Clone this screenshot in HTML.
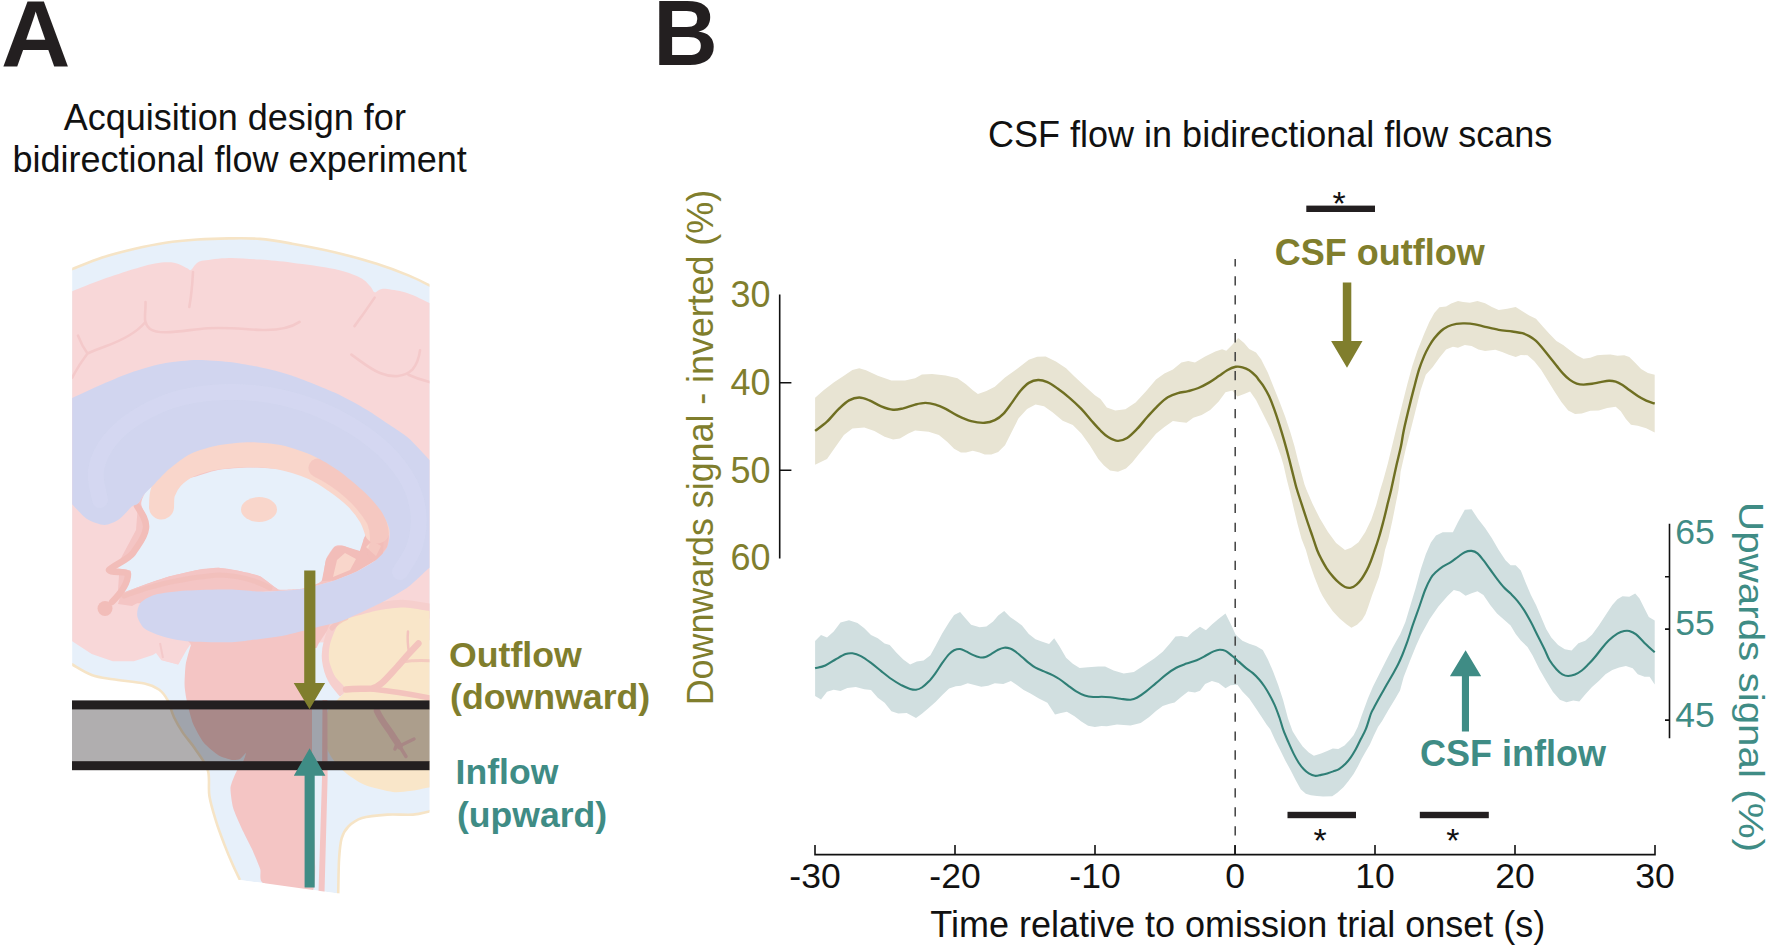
<!DOCTYPE html>
<html lang="en">
<head>
<meta charset="utf-8">
<title>CSF flow in bidirectional flow scans</title>
<style>
html,body{margin:0;padding:0;background:#fff;}
body{width:1769px;height:947px;overflow:hidden;}
svg{display:block;}
text{font-family:"Liberation Sans",sans-serif;}
.b{font-weight:bold;}
</style>
</head>
<body>
<svg width="1769" height="947" viewBox="0 0 1769 947">
<rect width="1769" height="947" fill="#ffffff"/>
<!-- Panel A -->
<text class="b" transform="translate(1.0 66.6) scale(1.025 1)" font-size="93.8" fill="#231f20">A</text>
<text x="234.8" y="130.2" font-size="36" text-anchor="middle" fill="#111">Acquisition design for</text>
<text x="239.6" y="172.2" font-size="36" text-anchor="middle" fill="#111">bidirectional flow experiment</text>
<defs><clipPath id="bc"><rect x="72.2" y="230" width="357.3" height="670"/></clipPath></defs>
<g clip-path="url(#bc)">
<path d="M60 274 C62 273.2 65.2 271.9 72.2 269.1 C79.2 266.4 91.9 260.9 102.2 257.5 C112.5 254.2 123.3 251.5 133.9 249 C144.5 246.5 155 244.3 165.6 242.7 C176.2 241.1 186.7 240.2 197.3 239.5 C207.9 238.8 218.6 238.5 229 238.4 C239.4 238.3 249.5 238 260 238.9 C270.5 239.8 279.8 241.5 292.2 243.7 C304.6 245.9 320.4 248.8 334.5 252.2 C348.6 255.5 364.4 259.9 376.7 263.8 C389 267.7 399.6 271.8 408.4 275.4 C417.2 279 424.2 282.8 429.5 285.3 C434.8 287.8 438.2 289.6 440 290.5 L442 808 L442 808 C440 808.5 434.7 810.1 429.8 811.2 C424.9 812.3 420 814 412.9 814.6 C405.8 815.2 395.9 814 387.4 814.6 C378.9 815.2 368.5 816 362 818 C355.5 820 351.8 823.1 348.4 826.5 C345 829.9 343.2 833 341.6 838.4 C340.1 843.8 339.7 849.5 339.1 858.7 C338.5 867.9 338.4 887.7 338.2 893.5 L239.9 879.9 L239.9 879.9 C238.8 877.5 235.7 871.3 233.1 865.5 C230.5 859.7 227.4 852.5 224.6 845.1 C221.8 837.8 218.6 829.6 216.1 821.4 C213.6 813.2 210.8 804.6 209.4 796 C208 787.4 210.2 777.8 207.8 770 C205.4 762.2 199.4 755.3 195.2 749 C191 742.7 186 737.4 182.5 732.1 C179 726.8 176.5 722.6 174 717.3 C171.5 712 170.1 705 167.7 700.4 C165.2 695.8 163.2 692.6 159.3 689.8 C155.4 687 152.2 685.2 144.5 683.5 C136.8 681.8 121.6 680.7 112.8 679.3 C104 677.9 98.5 677.5 91.7 675 C84.9 672.5 77.5 667.5 72.2 664.5 C66.9 661.5 62 658.2 60 657 Z" fill="#e7f0fa"/>
<path d="M60 296 C62 295.2 65.2 293.9 72.2 291.2 C79.2 288.5 91.9 283.3 102.2 279.6 C112.5 275.9 125.1 271.8 133.9 269.1 C142.7 266.4 148.3 264.5 155 263.4 C161.7 262.3 168.7 261.9 174 262.7 C179.3 263.5 183.9 266.8 186.7 268 C189.5 269.2 189.3 270.7 190.9 270 C192.5 269.3 193.9 265.6 196 264 C198.1 262.4 198.1 261.6 203.6 260.6 C209.1 259.6 219.6 258.1 229 257.9 C238.4 257.7 249.5 258.8 260 259.6 C270.5 260.4 279.8 261.1 292.2 262.7 C304.6 264.3 323.2 266.6 334.5 269.1 C345.8 271.6 353.9 274.7 359.8 277.5 C365.7 280.3 367.5 283.5 370 286 C372.5 288.5 372.9 291.7 374.6 292.3 C376.3 292.9 377.9 290 380 289.5 C382.1 289 382.6 288.5 387.3 289.1 C392 289.8 401.4 291.1 408.4 293.4 C415.4 295.7 423.9 300.3 429.5 302.9 C435.1 305.5 439.9 308 442 309 L442 640 L190 645 L186.7 649.7 L178.3 664.5 L161.4 660.3 L156 653 L152.9 655 L133.9 661.3 L112.8 661.3 L91.7 653.9 L72.2 641.2 L60 633 Z" fill="#f8d7d8"/>
<g fill="none" stroke="#f4c9ca" stroke-width="2.6" stroke-linecap="round">
<path d="M193 272 Q192 292 189.3 307"/>
<path d="M145.5 302 C146 315 142 322 150 329 C160 336 185 330 207.8 328.2 C230 327 245 329.5 262 330 C280 330.5 292 327 299.6 321.9"/>
<path d="M144.5 323 C136 333 123.4 339.8 105 346.5 C97 349.5 92 351.5 87.5 353.5 M78 335.6 Q82 346 87.5 353.5 Q78 366 72.2 377.8"/>
<path d="M374.6 297.6 Q365 312 354.5 326.1"/>
<path d="M351.4 354.6 C362 362 370 369 380 373 C392 378 405 377 412.6 369.4 C417 364 419 358 420 350.4 M408.4 374.7 Q418 379 429.5 382.1"/>
</g>
<path d="M138.1 503.4 L144.5 493.9 L155 483.4 L169.8 468.6 L190.9 453.8 L218.4 445.3 L250 442.2 L281.7 445.3 L313.4 455.9 L338.7 470.7 L364 491.8 L380.9 510.8 L389.4 529.8 L387.3 546.7 L376.7 559.4 L355.6 572.1 L334.5 580.5 L319.7 584.7 L302.8 589 L277.5 591 L260 591.6 L229 589.5 L186.7 590.6 L155 594.8 L140.3 603.2 L125 603 L118 590 L120 560 L136 530Z" fill="#f4c5c4"/>
<path d="M141.3 504.5 C141.8 508.2 148.3 521.4 148.7 525.6 C149.1 529.8 146 537.7 144.5 540.4 C143 543.1 137.5 546.8 136 548.8 C134.5 550.8 133.9 555.1 131.8 557.3 C129.7 559.5 118.2 566.2 118.1 567.8 C118 569.4 129.6 569.3 130.7 571 C131.8 572.7 128.7 580 127.6 582.6 C126.5 585.2 119.2 593 121.2 593.2 C123.2 593.4 138.8 586.7 144.5 584.7 C150.2 582.7 163.6 578 169.8 576.3 C176 574.6 191.6 570.9 197.3 569.9 C203 568.9 213.5 567.7 218.4 567.8 C223.3 567.9 234.6 570 239.5 571 C244.4 572 255.6 574.2 260 576.3 C264.4 578.4 274 587.5 277.5 589 C281 590.5 286.8 589.6 290 589.5 C293.2 589.4 301.3 589 305 588 C308.7 587 319.4 583.8 321.8 580.5 C324.2 577.2 324.5 563.3 326 559.4 C327.5 555.5 332.5 548.3 334.5 546.7 C336.5 545.1 339.9 545.2 342.9 545.7 C345.9 546.2 357.3 551.8 359.8 550.9 C362.3 550 363.1 540.5 364 538.3 C364.9 536.1 367.2 533.9 367.2 531.9 C367.2 529.9 365.8 524.6 364 521.4 C362.2 518.2 354.8 508 351.4 504.5 C348 501 338.9 494.8 334.5 491.8 C330.1 488.8 319.6 481.7 313.4 479.1 C307.2 476.5 289.1 471 281.7 469.6 C274.3 468.2 257.4 467.5 250 467.5 C242.6 467.5 225 468.8 218 470 C211 471.2 196.2 476.8 190 478 C183.8 479.2 169.7 478.8 165 480 C160.3 481.2 152.4 486.4 150 488 C147.6 489.6 145.5 492 144.5 493.9 C143.5 495.8 140.8 500.8 141.3 504.5Z" fill="#e7f0fa"/>
<path d="M121.2 593.2 L144.5 584.7 L169.8 576.3 L197.3 569.9 L218.4 567.8 L239.5 571 L260 576.3 L277.5 589 L260 592 L186 591 L150 596 L132 606 L118 604Z" fill="#f4c5c4"/>
<path d="M124 596 C150 586 180 578 218 575 C240 575 255 580 270 588" fill="none" stroke="#f2bdb9" stroke-width="5" stroke-linecap="round" opacity="0.75"/>
<path d="M321.8 581 L326 559.4 L334.5 546.7 L342.9 545.7 L359.8 550.9 L364 538.3 L369 528 L384 536 L383 556 L355.6 572.1 L334.5 580.5Z" fill="#f2bdb9"/>
<path d="M333 577 L337 560 L345 553 L356 559 L350 570Z M366 547 L372 541 L381 546 L376 556Z" fill="#f9d6cb"/>
<path d="M161.5 507 C161.8 504.5 161.2 497 163 492 C164.8 487 167.5 481.6 172 477 C176.5 472.4 182.3 467.8 190 464.5 C197.7 461.2 208 458.6 218 457 C228 455.4 239.4 454.7 250 454.8 C260.6 454.9 271.1 455.4 281.7 457.5 C292.3 459.6 304.3 463.6 313.4 467.5 C322.4 471.4 328.7 475.9 336 481 C343.3 486.1 351.2 492.2 357 498 C362.8 503.8 367.7 510.5 371 516 C374.3 521.5 376 528.5 377 531" fill="none" stroke="#f9d6cb" stroke-width="25" stroke-linecap="round"/>
<path d="M318 468 C343 480 365 500 376 520 C381 532 380 545 377 552" fill="none" stroke="#f2bdb9" stroke-width="19" stroke-linecap="round" opacity="0.55"/>
<ellipse cx="259" cy="509.5" rx="18" ry="12.5" fill="#f9d6cb"/>
<path d="M137 506 C141 512 147 520 146 528 C145 538 138 545 133 553 C128 560 112 566 109 570 C112 574 124 570 128 574 C128 584 120 594 112 602" fill="none" stroke="#f2bdb9" stroke-width="6.5" stroke-linecap="round" stroke-linejoin="round"/>
<circle cx="105" cy="608.5" r="7.5" fill="#f2bdb9"/>
<path d="M195 636 C179.9 638.7 191.8 642.1 190.9 645 C190 647.9 186.3 660.4 185.7 664.5 C185.1 668.6 184.5 682 184.6 685.6 C184.7 689.2 185.9 696.6 186.7 700.4 C187.5 704.2 191.3 719.4 193 723.6 C194.7 727.8 201.1 739.4 203.6 742.6 C206.1 745.8 215.6 753.6 218.4 755.3 C221.2 757 229.8 759.6 232 760 C234.2 760.4 238.6 759.7 240 759 C241.4 758.3 245.7 752.7 246 753 C246.3 753.3 243.9 760.2 243 762 C242.1 763.8 237.8 768.9 236.5 771.4 C235.2 773.9 230.8 783.9 230.5 787.5 C230.2 791.1 232 803.7 233.1 807.8 C234.2 811.9 239.7 824.1 241.6 828.2 C243.5 832.3 249.8 844.4 251.7 848.5 C253.6 852.6 259 865.4 260.2 868.9 C261.4 872.4 258.3 881.1 263.6 883.2 C268.9 885.3 308.1 898.5 313 890.2 C317.9 881.9 313 819 313 800 C313 781 313 714 313 700 C313 686 312.5 665.5 313 660 C313.5 654.5 316.5 648 318 645 C319.5 642 325.6 632.7 328 630 C330.4 627.3 355.3 617.4 342 618 C328.7 618.6 210.1 633.3 195 636Z" fill="#f4c5c4"/>
<path d="M159 641 L162 660 L178 664.5 L187 648 L186 640Z" fill="#f8d7d8"/>
<path d="M160 643 L163 658" stroke="#f4c9ca" stroke-width="2" fill="none"/>
<path d="M312 648 L322 648 L330 665 L346 692 L330 712 L325 730 L328 750 L340 765 L352 778 L345 800 L312 800 Z" fill="#e7f0fa"/>
<path d="M346 692 C344.2 689.7 337.8 683.3 335 678 C332.2 672.7 330.2 665.8 329.5 660 C328.8 654.2 329.3 649.2 331 643 C332.7 636.8 335 627.6 339.5 623 C344 618.4 351 617.7 358 615.5 C365 613.3 373.6 611.1 381.3 609.7 C389.1 608.4 396.1 607.1 404.5 607.4 C412.9 607.7 427.4 610.8 432 611.5" fill="none" stroke="#f6cfcd" stroke-width="15" stroke-linejoin="round"/>
<path d="M339.5 622.5 C342.7 619.2 353.1 617 358 615.5 C362.9 614 375.9 610.6 381.3 609.7 C386.7 608.8 398.9 607.2 404.5 607.4 C410.1 607.6 424.8 610.2 429.5 611 C434.2 611.8 443.2 593.7 445 614 C446.8 634.3 446.9 764.8 445 785 C443.1 805.2 433 786.7 428.9 787.4 C424.8 788.1 414.2 790.5 410 791 C405.8 791.5 398.1 792.7 392.9 792 C387.6 791.3 370.4 787.2 365 785 C359.6 782.8 349.9 776.1 346.4 773.4 C342.9 770.7 337.1 764.8 334.8 761.8 C332.5 758.8 327.9 751.7 326.7 747.9 C325.5 744.1 324.3 733.6 324.4 729.3 C324.5 725 326.3 714.2 327.9 710.7 C329.5 707.2 336.1 701.1 338 699 C339.9 696.9 343.8 694 344.5 692.5 C345.2 691 345.2 688.3 344.1 686.4 C343 684.5 336.6 679 334.8 675.9 C333 672.8 329.5 663.5 329 659.7 C328.5 655.9 329 647.7 330.2 643.4 C331.4 639.1 336.3 625.8 339.5 622.5Z" fill="#f9e6c9"/>
<path d="M332 628 Q338 621 346 618" fill="none" stroke="#f2bdb9" stroke-width="5" stroke-linecap="round" opacity="0.6"/>
<g fill="none" stroke="#f3c3bd" stroke-linecap="round" stroke-linejoin="round">
<path d="M346 689.5 C356 688 364 689 372 688.5 C380 687 386 679 397.5 666.6 C403 660 411 651 418.4 643.4" stroke-width="6.5"/>
<path d="M409 652.5 Q407 641 408 631.5" stroke-width="2.5"/>
<path d="M402 662 Q415 660 430 660.8" stroke-width="3" opacity="0.8"/>
<path d="M372 689 Q400 692 430 698" stroke-width="5.5"/>
<path d="M377 711 C381 720 387 727 391 733 C394 738 397 742 399.5 746" stroke-width="6.5"/>
<path d="M399.5 746 L414 739 M399.5 746 L406 756.5 M398 741 L395 749" stroke-width="3.5"/>
</g>
<path d="M322.5 700 L327.4 700 L327.6 778 L324.5 893 L318.5 892 L322 778Z" fill="#f4c5c4"/>
<clipPath id="cc"><path d="M60 403 C61.6 390.5 66.6 400.4 72.2 397.9 C77.8 395.4 94 387.7 102.2 384.2 C110.4 380.7 125.4 374.3 133.9 371.5 C142.4 368.7 157.1 364.5 165.6 363 C174.1 361.5 188.8 360 197.3 359.9 C205.8 359.8 220.6 361 229 362 C237.4 363 251.6 365.5 260 367.3 C268.4 369.1 282.3 372.3 292.2 375.7 C302.1 379.1 324.6 388.1 334.5 392.6 C344.4 397.1 358.9 405.2 366.2 409.5 C373.5 413.8 383.4 420.7 389 424.5 C394.6 428.3 403 433.3 408.4 438 C413.8 442.7 424.6 454.8 429.5 460.1 C434.4 465.4 442.9 465.2 445 478 C447.1 490.8 447.1 544 445 556 C442.9 568 434.4 563.7 429.5 567.8 C424.6 571.9 414 582.6 408.4 586.8 C402.8 591 392.9 596.4 387.3 599.5 C381.7 602.6 372.4 607.1 366.2 610 C360 612.9 347 619 340.8 621.2 C334.6 623.4 327.6 624.5 319.7 626.5 C311.8 628.5 291 634.2 281.7 636 C272.4 637.8 257 639.4 250 640.2 C243 641 237.4 642.2 229 642.3 C220.6 642.4 195.7 642 186.7 641.2 C177.7 640.4 167 637.7 161.4 636 C155.8 634.3 147.7 631.3 144.5 628.6 C141.3 625.9 137.9 619.4 137.3 616 C136.7 612.6 137.9 606 140.3 603.2 C142.7 600.4 148.8 596.5 155 594.8 C161.2 593.1 176.8 591.3 186.7 590.6 C196.6 589.9 219.2 589.4 229 589.5 C238.8 589.6 253.5 591.4 260 591.6 C266.5 591.8 271.8 591.3 277.5 591 C283.2 590.7 297.2 589.8 302.8 589 C308.4 588.2 315.5 585.8 319.7 584.7 C323.9 583.6 329.7 582.2 334.5 580.5 C339.3 578.8 350 574.9 355.6 572.1 C361.2 569.3 372.5 562.8 376.7 559.4 C380.9 556 385.6 550.6 387.3 546.7 C389 542.8 390.3 534.6 389.4 529.8 C388.5 525 384.3 515.9 380.9 510.8 C377.5 505.7 369.6 497.1 364 491.8 C358.4 486.5 345.4 475.5 338.7 470.7 C332 465.9 321 459.3 313.4 455.9 C305.8 452.5 290.2 447.1 281.7 445.3 C273.2 443.5 258.4 442.2 250 442.2 C241.6 442.2 226.3 443.8 218.4 445.3 C210.5 446.8 197.4 450.7 190.9 453.8 C184.4 456.9 174.6 464.7 169.8 468.6 C165 472.5 158.4 480 155 483.4 C151.6 486.8 146.8 491.2 144.5 493.9 C142.2 496.6 139.8 501.7 138.1 503.4 C136.4 505.1 134.3 504.5 131.8 506.6 C129.3 508.7 122.8 516.8 119.1 519.3 C115.4 521.8 108.6 525 104.4 525 C100.2 525 91.8 522 87.5 519.3 C83.2 516.6 75.9 508.1 72.2 504.5 C68.5 500.9 61.6 505.5 60 492 C58.4 478.5 58.4 415.5 60 403Z"/></clipPath>
<path d="M60 403 C61.6 390.5 66.6 400.4 72.2 397.9 C77.8 395.4 94 387.7 102.2 384.2 C110.4 380.7 125.4 374.3 133.9 371.5 C142.4 368.7 157.1 364.5 165.6 363 C174.1 361.5 188.8 360 197.3 359.9 C205.8 359.8 220.6 361 229 362 C237.4 363 251.6 365.5 260 367.3 C268.4 369.1 282.3 372.3 292.2 375.7 C302.1 379.1 324.6 388.1 334.5 392.6 C344.4 397.1 358.9 405.2 366.2 409.5 C373.5 413.8 383.4 420.7 389 424.5 C394.6 428.3 403 433.3 408.4 438 C413.8 442.7 424.6 454.8 429.5 460.1 C434.4 465.4 442.9 465.2 445 478 C447.1 490.8 447.1 544 445 556 C442.9 568 434.4 563.7 429.5 567.8 C424.6 571.9 414 582.6 408.4 586.8 C402.8 591 392.9 596.4 387.3 599.5 C381.7 602.6 372.4 607.1 366.2 610 C360 612.9 347 619 340.8 621.2 C334.6 623.4 327.6 624.5 319.7 626.5 C311.8 628.5 291 634.2 281.7 636 C272.4 637.8 257 639.4 250 640.2 C243 641 237.4 642.2 229 642.3 C220.6 642.4 195.7 642 186.7 641.2 C177.7 640.4 167 637.7 161.4 636 C155.8 634.3 147.7 631.3 144.5 628.6 C141.3 625.9 137.9 619.4 137.3 616 C136.7 612.6 137.9 606 140.3 603.2 C142.7 600.4 148.8 596.5 155 594.8 C161.2 593.1 176.8 591.3 186.7 590.6 C196.6 589.9 219.2 589.4 229 589.5 C238.8 589.6 253.5 591.4 260 591.6 C266.5 591.8 271.8 591.3 277.5 591 C283.2 590.7 297.2 589.8 302.8 589 C308.4 588.2 315.5 585.8 319.7 584.7 C323.9 583.6 329.7 582.2 334.5 580.5 C339.3 578.8 350 574.9 355.6 572.1 C361.2 569.3 372.5 562.8 376.7 559.4 C380.9 556 385.6 550.6 387.3 546.7 C389 542.8 390.3 534.6 389.4 529.8 C388.5 525 384.3 515.9 380.9 510.8 C377.5 505.7 369.6 497.1 364 491.8 C358.4 486.5 345.4 475.5 338.7 470.7 C332 465.9 321 459.3 313.4 455.9 C305.8 452.5 290.2 447.1 281.7 445.3 C273.2 443.5 258.4 442.2 250 442.2 C241.6 442.2 226.3 443.8 218.4 445.3 C210.5 446.8 197.4 450.7 190.9 453.8 C184.4 456.9 174.6 464.7 169.8 468.6 C165 472.5 158.4 480 155 483.4 C151.6 486.8 146.8 491.2 144.5 493.9 C142.2 496.6 139.8 501.7 138.1 503.4 C136.4 505.1 134.3 504.5 131.8 506.6 C129.3 508.7 122.8 516.8 119.1 519.3 C115.4 521.8 108.6 525 104.4 525 C100.2 525 91.8 522 87.5 519.3 C83.2 516.6 75.9 508.1 72.2 504.5 C68.5 500.9 61.6 505.5 60 492 C58.4 478.5 58.4 415.5 60 403Z" fill="#d1d5ef"/>
<g clip-path="url(#cc)">
<path d="M100 500 C99.3 495 94.3 480 96 470 C97.7 460 102.7 449.2 110 440 C117.3 430.8 128.3 422 140 415 C151.7 408 165.2 401.8 180 398 C194.8 394.2 212.3 392.2 229 392 C245.7 391.8 263.2 393.3 280 397 C296.8 400.7 314.2 406.5 330 414 C345.8 421.5 362.5 431.8 375 442 C387.5 452.2 397.8 463.7 405 475 C412.2 486.3 416.3 498.3 418 510 C419.7 521.7 418 534.7 415 545 C412 555.3 402.5 567.5 400 572" fill="none" stroke="#dcdff4" stroke-width="16" stroke-linecap="round" opacity="0.3"/>
</g>
</g>
<g fill="none" stroke="#f6e4c6" stroke-width="2.6" clip-path="url(#bc)">
<path d="M60 274 C62 273.2 65.2 271.9 72.2 269.1 C79.2 266.4 91.9 260.9 102.2 257.5 C112.5 254.2 123.3 251.5 133.9 249 C144.5 246.5 155 244.3 165.6 242.7 C176.2 241.1 186.7 240.2 197.3 239.5 C207.9 238.8 218.6 238.5 229 238.4 C239.4 238.3 249.5 238 260 238.9 C270.5 239.8 279.8 241.5 292.2 243.7 C304.6 245.9 320.4 248.8 334.5 252.2 C348.6 255.5 364.4 259.9 376.7 263.8 C389 267.7 399.6 271.8 408.4 275.4 C417.2 279 424.2 282.8 429.5 285.3 C434.8 287.8 438.2 289.6 440 290.5"/>
<path d="M60 657 C62 658.2 66.9 661.5 72.2 664.5 C77.5 667.5 84.9 672.5 91.7 675 C98.5 677.5 104 677.9 112.8 679.3 C121.6 680.7 136.8 681.8 144.5 683.5 C152.2 685.2 155.4 687 159.3 689.8 C163.2 692.6 165.2 695.8 167.7 700.4 C170.1 705 171.5 712 174 717.3 C176.5 722.6 179 726.8 182.5 732.1 C186 737.4 191 742.7 195.2 749 C199.4 755.3 205.4 762.2 207.8 770 C210.2 777.8 208 787.4 209.4 796 C210.8 804.6 213.6 813.2 216.1 821.4 C218.6 829.6 221.8 837.8 224.6 845.1 C227.4 852.5 230.5 859.7 233.1 865.5 C235.7 871.3 238.8 877.5 239.9 879.9"/>
<path d="M338.2 893.5 C338.4 887.7 338.5 867.9 339.1 858.7 C339.7 849.5 340.1 843.8 341.6 838.4 C343.2 833 345 829.9 348.4 826.5 C351.8 823.1 355.5 820 362 818 C368.5 816 378.9 815.2 387.4 814.6 C395.9 814 405.8 815.2 412.9 814.6 C420 814 424.9 812.3 429.8 811.2 C434.7 810.1 440 808.5 442 808"/>
</g>
<path d="M200 878.5 L239.9 879.9 L338.2 893.5 L345 894.5 L345 905 L200 905Z" fill="#fff"/>
<rect x="72" y="709" width="357.5" height="53" fill="#231f20" fill-opacity="0.36"/>
<rect x="72" y="700.4" width="357.5" height="9" fill="#231f20"/>
<rect x="72" y="761.2" width="357.5" height="9" fill="#231f20"/>
<path d="M304.2 570.6H315.4V683H325.1L309.5 709.3L293.7 683H304.2Z" fill="#807e2d"/>
<path d="M304.6 887.4H314.7V775.8H325.4L309.6 748.3L293.8 775.8H304.6Z" fill="#3f8c85"/>
<text class="b" x="449" y="667.4" font-size="35.7" fill="#807e2d">Outflow</text>
<text class="b" x="450" y="709.4" font-size="35.7" fill="#807e2d">(downward)</text>
<text class="b" x="455.6" y="784" font-size="35.6" fill="#3f8c85">Inflow</text>
<text class="b" x="457" y="826.5" font-size="35.6" fill="#3f8c85">(upward)</text>
<!-- Panel B -->
<text class="b" transform="translate(653.2 65.2) scale(0.965 1)" font-size="92.6" fill="#231f20">B</text>
<text x="1270.2" y="146.8" font-size="36" text-anchor="middle" fill="#111">CSF flow in bidirectional flow scans</text>
<path d="M815.1 397.8 L823.6 390.2 L833.7 382.6 L843.9 375.8 L852.4 369.9 L859.2 368.2 L866 370.2 L877.8 375.8 L891.4 380.4 L905 380.5 L915.1 378.3 L921.9 374.4 L932.1 374.1 L945.7 375.4 L957.5 378.3 L966 384.3 L972.8 390.2 L977.9 394.1 L986.4 391 L994.8 386.8 L1005 377.5 L1016.9 369 L1028.8 359.7 L1037.2 356.8 L1045.7 356.6 L1055.9 361.4 L1066.1 368.2 L1074.5 376.6 L1084.7 386 L1094.9 395.3 L1100.5 399 L1106.8 407.5 L1115.3 410.4 L1125.4 409.2 L1135.6 402.4 L1145.8 391.4 L1156 379.5 L1164.4 373.6 L1172.9 369.4 L1181.4 362.6 L1188.2 360.9 L1195 362.6 L1205.1 356.6 L1215.3 351.5 L1222.1 349.3 L1226.3 350.7 L1232.3 344.8 L1238.2 338 L1244.1 343.1 L1249.2 349 L1256 352.4 L1261.1 359.2 L1267.9 372.7 L1274.7 389.7 L1280 402.9 L1285.1 416.5 L1290.2 431.7 L1294.5 446.2 L1297.9 460 L1304.5 484.4 L1306.6 490 L1312.4 503.6 L1319.9 518.5 L1328 532.1 L1336.1 542.9 L1345 550 L1351.1 547.7 L1358.5 542.2 L1365.3 532.1 L1371.4 519.2 L1376.2 504.9 L1380.2 490 L1383.3 480 L1387.9 463.2 L1392.8 443 L1397 425.7 L1402 405.3 L1407.1 385 L1412.2 366.3 L1417.3 351 L1424.1 334.1 L1429.2 322.2 L1434.3 312.9 L1439.4 307.3 L1446.1 306.6 L1451.2 303.6 L1458 301 L1463.1 301.9 L1469.9 302.7 L1477.5 301 L1485.1 303.2 L1491.9 307 L1498.7 310 L1507.2 308.7 L1515.7 307 L1522.4 311.2 L1529.2 315.4 L1536 318.8 L1542.8 326.5 L1549.6 334.1 L1556.4 340.9 L1563.1 345.1 L1569.9 350.2 L1576.7 355.3 L1583.5 358.7 L1590.3 357.8 L1597.1 355.3 L1603.8 354.8 L1610.6 354.4 L1617.4 355.8 L1624.2 355.3 L1629.3 357 L1634.4 362.1 L1641.1 368.9 L1647.9 373.1 L1654.7 374.8 L1654.7 432.4 L1646.2 428.2 L1637.8 425.7 L1631 424.8 L1625.9 418.9 L1620.8 411.2 L1615.7 406.7 L1607.2 407.9 L1598.8 410.4 L1590.3 410.7 L1581.8 413.5 L1575 414.1 L1568.2 410.4 L1561.4 401.9 L1554.7 391.7 L1547.9 380.7 L1541.1 369.7 L1534.3 361.2 L1527.5 355.3 L1520.8 354.9 L1515.7 357 L1508.9 354.8 L1502.1 351.9 L1495.3 349.7 L1485.1 351 L1478.4 349.4 L1471.6 346 L1464.8 345.1 L1458 347.7 L1452.9 346.8 L1446.1 349.4 L1439.4 357.8 L1432.6 367.2 L1425.8 374.8 L1420.7 390 L1415.6 410.4 L1410.5 430.7 L1406 448 L1400.6 471.7 L1399.8 480 L1398.5 490 L1395.8 503.6 L1392.4 520.5 L1388.4 538.8 L1385 550 L1382.3 563.6 L1378.9 577.1 L1371.8 596 L1368.4 606.2 L1365.6 614.1 L1362.2 619.7 L1357.1 624.8 L1351.4 627.7 L1346.4 624.3 L1339.6 618.6 L1332.8 611.3 L1327.1 603.3 L1322.6 596 L1319.9 590.7 L1314.4 577.1 L1309.7 563.6 L1305.9 550 L1301.5 538.8 L1297.5 523.9 L1293.4 507 L1290 492 L1286.9 480 L1283.5 465 L1280.9 456.3 L1275.8 441.9 L1270.7 429.2 L1262.8 413.4 L1256 399.9 L1250.1 391.4 L1244.1 393.9 L1237.4 396.5 L1232.3 390.5 L1225.5 392.2 L1218.7 401.6 L1210.2 410.1 L1201.7 415.1 L1193.3 417.7 L1186.5 422.8 L1179.7 421.9 L1172.9 421.1 L1164.4 427 L1156 433.8 L1147.5 444 L1139 454.1 L1132.2 462.6 L1126 468.5 L1118 471.8 L1110 470.5 L1104 465.5 L1098.3 458.9 L1089.8 445.3 L1081.3 433.4 L1072.8 425 L1062.7 420.7 L1052.5 412.2 L1044 406.3 L1035.5 404.6 L1027.1 408.9 L1018.6 418.2 L1011.8 431.7 L1005 445.3 L998.2 452.1 L991.4 454.6 L984.7 454.6 L979.6 452.4 L972.8 450.7 L966 452.4 L960.9 452.4 L954.1 448.7 L947.4 441.9 L938.9 435.1 L928.7 431.7 L915.1 430.4 L908.4 433.4 L899.9 438.5 L893.1 439.4 L884.6 436.8 L874.4 430.9 L864.3 427.5 L852.4 428.4 L843.9 435.1 L835.4 447 L827 458.9 L815.1 464.8Z" fill="#e8e4d3"/>
<path d="M815.1 640.9 L821 634.9 L827 637.5 L833.7 631.5 L840.5 622.6 L849 620.2 L857.5 623.1 L864.3 628.2 L871 634.9 L877.8 638.3 L884.6 643.4 L889.7 645.1 L896.5 652.7 L903.3 659.5 L910.1 664.6 L916.8 661.6 L923.6 660.4 L930.4 655.3 L935.5 646 L942.3 633.2 L949.1 622.2 L954.1 615.1 L960.1 612 L964.3 617.1 L971.1 624.8 L979.6 627.3 L986.4 626.5 L993.1 621.4 L998.2 615.4 L1004.2 610.9 L1010.1 617.1 L1015.2 620.5 L1022 625.6 L1028.8 634.1 L1035.5 639.2 L1042.3 641.7 L1049.1 643.9 L1054.2 638.3 L1059.3 646 L1066.1 657.8 L1072.8 663.8 L1079.6 668 L1088.1 667.2 L1098.3 666.5 L1105.1 666.5 L1113.6 670.4 L1123.7 673.4 L1133.9 672.1 L1144.1 665.3 L1154.3 658.5 L1162.7 651.7 L1169.5 644.1 L1175.5 636.5 L1181.4 635.9 L1187.3 637.3 L1192.4 632.2 L1200 626.8 L1206 630.2 L1211.9 624.6 L1218.7 618.7 L1225.5 613.6 L1230.6 623.7 L1235.7 634.8 L1242.4 640.7 L1249.2 643.8 L1256 646.1 L1262.8 650 L1267.9 659.4 L1273 671.2 L1278.1 684.8 L1283.1 700.1 L1288 718.5 L1292.6 731.2 L1297.6 739.3 L1302.7 746.5 L1308.8 752.6 L1313.9 755.8 L1321.1 753.6 L1327.2 751 L1332.8 748.5 L1338.3 749 L1344.5 745.4 L1349.5 740.3 L1353.6 735.3 L1357.7 727.1 L1361.5 716 L1367.9 698.4 L1373 686.5 L1379.8 672.9 L1386.6 659.4 L1393 647 L1400.3 634 L1405.4 622.1 L1410.5 605.1 L1415.6 588.2 L1420.7 569.5 L1425.8 554.3 L1430.9 542.4 L1436 535.6 L1442.7 532.2 L1452.9 532.2 L1458 522 L1464.8 509.8 L1471.6 509.3 L1477.9 518.7 L1485.1 528 L1491.9 538.2 L1498.7 550 L1505.5 560.2 L1510.6 565.3 L1515.7 565.3 L1520.8 570.4 L1525.8 583.1 L1530.9 595 L1536 605.1 L1541.1 617 L1546.2 628.9 L1551.3 637.4 L1558.1 645 L1564.8 649.2 L1571.6 650.4 L1578.4 643.3 L1585.2 640.7 L1592 634.8 L1598.8 625.5 L1605.5 615.3 L1612.3 605.1 L1617.4 599.2 L1622.5 596.3 L1629.3 596.7 L1635.2 593.6 L1639.5 598.4 L1644.5 608.5 L1648.8 617 L1654.7 620.4 L1654.7 684.4 L1649.6 676.8 L1644.5 676.8 L1637.8 674.3 L1632.7 668.3 L1625.9 666.1 L1619.1 667.5 L1612.3 670 L1605.5 674.3 L1598.8 681 L1592 687 L1585.2 694.6 L1579.3 701.4 L1573.3 700.5 L1566.5 702.2 L1559.8 699.7 L1553 692.1 L1546.2 681 L1539.4 669.2 L1532.6 655.6 L1527.5 647.1 L1520.8 640.5 L1515.7 634 L1510.6 625.5 L1503.8 619.6 L1497 613.6 L1490.2 605.1 L1483.4 595 L1477.5 591.2 L1471.6 593.3 L1465.6 595.8 L1459.7 591.6 L1453.8 589.9 L1447.8 595.8 L1438.4 606.5 L1429.6 619.2 L1420.7 635.6 L1416 646 L1410.5 659.5 L1403.7 677 L1400 690.5 L1395.1 699 L1388.4 710 L1382.1 721 L1378 727.1 L1374 735.3 L1369.9 744.4 L1365.8 751.5 L1361.7 758.7 L1357.7 766.8 L1353.6 773.9 L1348.5 781.1 L1343.4 787.2 L1337.3 792.8 L1332.2 796.3 L1323.1 796.5 L1317 796.1 L1310.9 795.3 L1305.8 793.8 L1300.7 789.2 L1295.6 780 L1290.5 769.9 L1285.4 760.7 L1280.4 750.5 L1275.3 740.4 L1270.2 729.2 L1266.5 724.5 L1262.8 718.7 L1256 708.5 L1249.2 698.4 L1242.4 691.6 L1237.4 684.8 L1230.6 685.3 L1225.5 688.2 L1218.7 683.1 L1211.9 681.1 L1205.1 683.9 L1200 690.7 L1195 692.4 L1188.2 691.6 L1181.4 696.7 L1174.6 702.6 L1169.5 703.8 L1162.7 706 L1156 711.1 L1149.2 717 L1140.7 722.9 L1130.5 725.5 L1117 724.6 L1106.8 726.3 L1101.5 726 L1094.9 727 L1088.1 725.7 L1081.3 721.4 L1074.5 716.3 L1066.9 711.8 L1061 712.9 L1055 714.6 L1047.4 702.8 L1038.9 698.5 L1030.5 693.4 L1023.7 690.1 L1016.9 685 L1010.9 681.1 L1003.3 684.1 L994.8 683.3 L988.1 685.8 L981.3 686.7 L974.5 685 L967.7 683.3 L960.9 685.8 L955.8 686.3 L949.1 688.4 L942.3 695.1 L935.5 701.9 L928.7 707.9 L921.9 713.8 L916 718 L906.7 712.9 L898.2 713.5 L891.4 711.2 L884.6 702.8 L877.8 697.7 L871 690.1 L864.3 689.2 L855.8 687 L847.3 688 L840.5 690.9 L833.7 689.7 L827 691.7 L821 699.4 L815.1 696Z" fill="#d1dfe0"/>
<line x1="1235.2" y1="259" x2="1235.2" y2="854.6" stroke="#404040" stroke-width="1.5" stroke-dasharray="9.3 9.667" stroke-dashoffset="1.77"/>
<path d="M815.1 430.9 C817.1 429.3 823 425.3 827 421.6 C831 417.9 835.1 412.4 838.8 408.9 C842.5 405.4 845.6 402.3 849 400.4 C852.4 398.5 855.8 397.5 859.2 397.5 C862.6 397.5 865.7 398.9 869.4 400.4 C873.1 401.9 877.2 404.8 881.2 406.3 C885.2 407.9 889.4 409.4 893.1 409.7 C896.8 410 899.6 409.1 903.3 408.3 C907 407.5 911.4 405.5 915.1 404.6 C918.8 403.7 921.9 402.9 925.3 402.9 C928.7 402.9 932.1 403.6 935.5 404.6 C938.9 405.6 942 407.1 945.7 408.9 C949.4 410.7 953.3 413.6 957.5 415.6 C961.7 417.6 966.6 419.9 971.1 421.1 C975.6 422.3 980.8 423 984.7 422.8 C988.7 422.6 991.7 421.7 994.8 420.2 C997.9 418.7 1000.5 416.8 1003.3 413.9 C1006.1 411 1009 406.7 1011.8 402.9 C1014.6 399.1 1017.5 394.3 1020.3 391 C1023.1 387.7 1025.8 384.7 1028.8 382.9 C1031.8 381.1 1035 380.1 1038.1 380 C1041.2 379.9 1044.2 380.8 1047.4 382.2 C1050.7 383.6 1053.9 385.9 1057.6 388.5 C1061.3 391.1 1065.5 394.4 1069.5 397.8 C1073.5 401.2 1077.6 405.1 1081.3 408.9 C1085 412.7 1088.3 417.1 1091.5 420.7 C1094.7 424.3 1097.7 427.8 1100.5 430.5 C1103.3 433.2 1105.6 435.5 1108.5 437.2 C1111.4 438.9 1114.7 440.8 1117.8 440.9 C1120.9 441 1123.8 440 1127.1 438 C1130.3 436 1133.9 432.2 1137.3 428.7 C1140.7 425.2 1144.1 420.6 1147.5 416.8 C1150.9 413 1154.3 409.1 1157.7 405.8 C1161.1 402.6 1164.4 399.4 1167.8 397.3 C1171.2 395.2 1174.6 394.1 1178 393.1 C1181.4 392.1 1184.8 392 1188.2 391.1 C1191.6 390.2 1195 389.4 1198.4 388 C1201.8 386.6 1205.1 384.9 1208.5 382.9 C1211.9 380.9 1215.6 378.2 1218.7 376.1 C1221.8 374 1224.4 371.8 1227.2 370.2 C1230 368.6 1233.2 367.3 1235.7 366.8 C1238.2 366.3 1240.2 366.7 1242.4 367.3 C1244.7 367.9 1246.9 368.7 1249.2 370.2 C1251.5 371.7 1254.4 374.5 1256 376.1 C1257.6 377.7 1257.5 378.2 1258.8 380 C1260.1 381.8 1262.2 384.1 1263.9 386.8 C1265.6 389.5 1267.3 392.4 1269 396.1 C1270.7 399.8 1272.4 404.1 1274.1 408.8 C1275.8 413.5 1277.5 418.7 1279.2 424.1 C1280.9 429.5 1282.6 435.1 1284.3 441.1 C1286 447.1 1287.6 452.9 1289.4 460 C1291.2 467.1 1294.1 479 1295.4 484 C1296.7 489 1296.1 486.7 1297.1 490 C1298.1 493.3 1299.8 498.5 1301.5 503.6 C1303.2 508.7 1305.2 515.1 1307 520.5 C1308.8 525.9 1310.7 531.2 1312.4 536.1 C1314.1 541 1315.6 546.2 1317.1 550 C1318.6 553.8 1319.6 555.8 1321.2 558.8 C1322.8 561.8 1324.6 565.2 1326.6 568.3 C1328.6 571.3 1331.2 574.6 1333.4 577.1 C1335.6 579.6 1337.6 581.6 1339.5 583.2 C1341.4 584.9 1343.1 586.2 1345 587 C1346.9 587.8 1349.2 588.1 1351.1 587.7 C1353 587.3 1354.7 586.1 1356.5 584.6 C1358.3 583.1 1360.2 580.9 1361.9 578.5 C1363.6 576.1 1365.2 573.2 1366.7 570.4 C1368.2 567.6 1369.4 564.9 1370.7 561.5 C1372 558.1 1373.4 554 1374.8 550 C1376.2 546 1377.4 542.4 1378.9 537.5 C1380.4 532.6 1382.1 526.1 1383.6 520.5 C1385.1 514.9 1386.5 508.7 1387.7 503.6 C1389 498.5 1389.6 496.4 1391.1 490 C1392.5 483.6 1394.8 472.7 1396.4 465.4 C1398.1 458.1 1399.8 451.8 1401 446 C1402.2 440.2 1402.4 436.9 1403.7 430.7 C1405 424.5 1407.1 415.8 1408.8 408.7 C1410.5 401.6 1412.2 394.9 1413.9 388.4 C1415.6 381.9 1417.3 375.1 1419 369.7 C1420.7 364.3 1422.4 360.1 1424.1 356.1 C1425.8 352.2 1427.5 349 1429.2 346 C1430.9 343 1432.3 340.8 1434.3 338.3 C1436.3 335.8 1438.8 333 1441 331 C1443.2 329 1445.2 327.7 1447.8 326.5 C1450.3 325.3 1453.5 324.4 1456.3 323.9 C1459.1 323.4 1461.7 323.3 1464.8 323.4 C1467.9 323.5 1471.6 323.8 1475 324.4 C1478.4 325 1481.1 325.9 1485.1 326.8 C1489 327.7 1494.2 329.1 1498.7 329.9 C1503.2 330.7 1508.3 330.9 1512.3 331.5 C1516.2 332.1 1519.6 332.4 1522.4 333.2 C1525.2 334 1526.9 334.8 1529.2 336.1 C1531.5 337.4 1533.7 338.8 1536 340.9 C1538.3 343 1540.5 345.8 1542.8 348.5 C1545.1 351.2 1547.3 354.2 1549.6 357 C1551.9 359.8 1554.2 362.7 1556.4 365.5 C1558.7 368.3 1560.8 371.2 1563.1 373.6 C1565.3 376 1567.6 378.2 1569.9 379.9 C1572.2 381.6 1574.4 382.8 1576.7 383.6 C1579 384.4 1581 384.6 1583.5 384.6 C1586 384.6 1589.2 384.2 1592 383.8 C1594.8 383.4 1597.7 382.6 1600.5 382.1 C1603.3 381.6 1606.4 380.8 1608.9 380.7 C1611.4 380.6 1613.4 380.9 1615.7 381.6 C1618 382.3 1620.2 383.6 1622.5 385 C1624.8 386.4 1626.8 388.2 1629.3 390 C1631.8 391.8 1635 394.2 1637.8 396 C1640.6 397.8 1643.4 399.3 1646.2 400.6 C1649 401.9 1653.3 403.1 1654.7 403.6" fill="none" stroke="#6f6f22" stroke-width="2.4" stroke-linejoin="round"/>
<path d="M815.1 668.3 C816.8 667.8 821.9 667 825.3 665.5 C828.7 664 832 661.4 835.4 659.5 C838.8 657.6 842.8 655.1 845.6 654.1 C848.4 653.1 849.9 653 852.4 653.3 C854.9 653.6 857.8 654.5 860.9 656.1 C864 657.7 867.6 660.4 871 662.9 C874.4 665.4 877.8 668.4 881.2 671.1 C884.6 673.8 888 676.6 891.4 679 C894.8 681.4 898.5 683.6 901.6 685.3 C904.7 686.9 907.7 688.2 910.1 688.9 C912.5 689.6 914 689.9 916 689.7 C918 689.5 919.8 688.9 921.9 687.5 C924 686.1 926.4 684 928.7 681.6 C931 679.2 933.2 676.2 935.5 673.1 C937.8 670 940 666.1 942.3 662.9 C944.6 659.7 947.1 656.2 949.1 654.1 C951.1 652 952.3 651.1 954.1 650.2 C955.9 649.4 958.1 648.8 960.1 649 C962.1 649.2 963.9 650.4 966 651.4 C968.1 652.4 970.5 653.9 972.8 654.9 C975.1 655.9 977.5 656.9 979.6 657.3 C981.7 657.6 983.5 657.6 985.5 657 C987.5 656.4 989.3 655.1 991.4 653.9 C993.5 652.7 996.1 650.7 998.2 649.7 C1000.3 648.7 1002.2 647.9 1004.2 647.7 C1006.2 647.5 1008.3 647.9 1010.1 648.5 C1011.9 649.1 1013.2 650 1015.2 651.4 C1017.2 652.8 1019.7 655.1 1022 657 C1024.3 658.9 1026.5 661.1 1028.8 662.9 C1031 664.7 1033 666.3 1035.5 667.7 C1038 669.1 1041.2 670.2 1044 671.4 C1046.8 672.6 1050 673.8 1052.5 675.1 C1055 676.4 1056.8 677.3 1059.3 679 C1061.8 680.7 1065 683.2 1067.8 685.3 C1070.6 687.4 1073.4 689.7 1076.2 691.4 C1079 693.1 1081.9 694.6 1084.7 695.5 C1087.5 696.4 1090.4 696.8 1093.2 697 C1096 697.2 1098.9 696.8 1101.7 696.8 C1104.5 696.8 1107.1 697 1110.2 697.3 C1113.3 697.6 1116.9 698.3 1120.3 698.7 C1123.7 699.1 1127.7 699.9 1130.5 699.7 C1133.3 699.5 1134.8 698.9 1137.3 697.5 C1139.8 696.1 1142.7 694 1145.8 691.6 C1148.9 689.2 1152.6 685.9 1156 683.1 C1159.4 680.3 1162.7 677.2 1166.1 674.6 C1169.5 672 1172.9 669.6 1176.3 667.8 C1179.7 666 1183.1 664.9 1186.5 663.6 C1189.9 662.3 1193.6 661.5 1196.7 660.2 C1199.8 658.9 1202.3 657.5 1205.1 656 C1207.9 654.5 1211.2 652.4 1213.6 651.4 C1216 650.4 1217.6 649.8 1219.6 649.7 C1221.6 649.6 1223.4 649.9 1225.5 650.9 C1227.6 651.9 1230 654.2 1232.3 656 C1234.6 657.8 1236.8 659.9 1239.1 661.9 C1241.3 663.9 1243.5 666 1245.8 667.8 C1248 669.6 1250.3 670.9 1252.6 672.9 C1254.9 674.9 1257.4 677.4 1259.4 679.7 C1261.4 682 1262.8 684 1264.5 686.5 C1266.2 689 1267.9 691.9 1269.6 695 C1271.3 698.1 1273 701.3 1274.7 705.1 C1276.4 708.9 1278.1 713.8 1279.6 718 C1281 722.2 1281.9 726.1 1283.4 730.2 C1284.9 734.3 1286.8 738.5 1288.5 742.4 C1290.2 746.3 1291.9 750.2 1293.6 753.6 C1295.3 757 1297 760.1 1298.7 762.7 C1300.4 765.3 1302.1 767.5 1303.8 769.3 C1305.5 771.1 1306.9 772.3 1308.8 773.4 C1310.7 774.5 1312.9 775.5 1314.9 775.8 C1317 776 1319 775.3 1321.1 774.9 C1323.1 774.5 1325.2 774 1327.2 773.4 C1329.2 772.8 1331.3 772.2 1333.3 771.4 C1335.3 770.6 1337.4 770.1 1339.4 768.8 C1341.4 767.5 1343.6 765.7 1345.5 763.8 C1347.4 761.9 1348.9 760 1350.6 757.6 C1352.3 755.2 1353.9 752.5 1355.6 749.5 C1357.3 746.5 1359 742.7 1360.7 739.3 C1362.4 735.9 1364.1 733.4 1365.8 729.2 C1367.5 725 1369.5 717.5 1370.8 714 C1372.1 710.5 1372.3 710.8 1373.8 707.9 C1375.3 705 1377.9 700.3 1380 696.5 C1382.1 692.7 1384.5 688.7 1386.5 685.1 C1388.5 681.5 1390.4 678.4 1392.3 675 C1394.2 671.6 1396.2 668.2 1397.9 664.8 C1399.6 661.4 1401 658.1 1402.5 654.5 C1404 650.9 1405 648.2 1406.8 643.2 C1408.6 638.2 1411 630.3 1413.1 624.2 C1415.2 618.1 1417.4 612.2 1419.4 606.5 C1421.4 600.8 1423.2 594.8 1425.1 590 C1427 585.2 1429.1 581 1430.9 578 C1432.7 575 1434 574 1436 572.1 C1438 570.2 1440.2 568.3 1442.7 566.6 C1445.2 564.9 1448.7 563.5 1451.2 561.9 C1453.8 560.3 1455.7 558.4 1458 556.8 C1460.3 555.2 1462.5 553.2 1464.8 552.2 C1467.1 551.2 1469.5 550.7 1471.6 550.9 C1473.7 551.1 1475.5 551.8 1477.5 553.4 C1479.5 555 1481.3 557.5 1483.4 560.2 C1485.5 562.9 1487.9 566.4 1490.2 569.5 C1492.5 572.6 1494.7 575.9 1497 578.9 C1499.3 581.9 1501.5 584.8 1503.8 587.3 C1506.1 589.8 1508.3 591.3 1510.6 593.6 C1512.9 595.9 1515.2 598.1 1517.4 600.9 C1519.7 603.7 1521.8 606.7 1524.1 610.2 C1526.3 613.7 1528.6 617.9 1530.9 622.1 C1533.2 626.4 1535.4 631.2 1537.7 635.7 C1540 640.2 1542.5 645.1 1544.5 649.2 C1546.5 653.3 1547.6 657 1549.6 660.3 C1551.6 663.6 1554.3 666.9 1556.4 669.2 C1558.5 671.5 1560.3 673.2 1562.3 674.3 C1564.3 675.4 1566.1 676 1568.2 676 C1570.3 676 1572.7 675.5 1575 674.6 C1577.3 673.7 1579.5 672.2 1581.8 670.5 C1584.1 668.8 1586.3 666.4 1588.6 664.1 C1590.9 661.8 1593.2 659.2 1595.4 656.5 C1597.7 653.8 1599.8 650.7 1602.1 648 C1604.3 645.3 1606.4 642.7 1608.9 640.3 C1611.5 637.9 1614.9 635.1 1617.4 633.6 C1620 632.1 1622.2 631.4 1624.2 631 C1626.2 630.6 1627.3 630.4 1629.3 631 C1631.3 631.6 1633.6 632.4 1636.1 634.4 C1638.6 636.4 1641.4 639.9 1644.5 642.9 C1647.6 645.9 1653 650.7 1654.7 652.2" fill="none" stroke="#2f7f76" stroke-width="2.1" stroke-linejoin="round"/>
<path d="M779.7 294.4V558.4M779.7 382.8H791.4M779.7 470.3H791.4" stroke="#111" stroke-width="1.6" fill="none"/>
<text x="770.5" y="306.8" font-size="36" text-anchor="end" fill="#807e2d">30</text>
<text x="770.5" y="395.3" font-size="36" text-anchor="end" fill="#807e2d">40</text>
<text x="770.5" y="482.6" font-size="36" text-anchor="end" fill="#807e2d">50</text>
<text x="770.5" y="570.3" font-size="36" text-anchor="end" fill="#807e2d">60</text>
<text transform="translate(712.5 705.3) rotate(-90)" font-size="36" fill="#807e2d" textLength="515.5" lengthAdjust="spacing">Downwards signal - inverted (%)</text>
<path d="M1669.5 523.7V738.3M1665 576.8H1669.5M1665 629.1H1669.5M1665 720.1H1669.5" stroke="#111" stroke-width="1.6" fill="none"/>
<text x="1675.3" y="544.3" font-size="35.5" fill="#3f8c85">65</text>
<text x="1675.3" y="635.2" font-size="35.5" fill="#3f8c85">55</text>
<text x="1675.3" y="726.6" font-size="35.5" fill="#3f8c85">45</text>
<text transform="translate(1738.8 502) rotate(90)" font-size="35.5" fill="#3f8c85" textLength="350" lengthAdjust="spacingAndGlyphs">Upwards signal (%)</text>
<path d="M814.2 854.6H1655.8M815 845V854.6M955 845V854.6M1095 845V854.6M1235 845V854.6M1375 845V854.6M1515 845V854.6M1655 845V854.6" stroke="#111" stroke-width="1.6" fill="none"/>
<text x="815" y="888.2" font-size="35.5" text-anchor="middle" fill="#111">-30</text>
<text x="955" y="888.2" font-size="35.5" text-anchor="middle" fill="#111">-20</text>
<text x="1095" y="888.2" font-size="35.5" text-anchor="middle" fill="#111">-10</text>
<text x="1235" y="888.2" font-size="35.5" text-anchor="middle" fill="#111">0</text>
<text x="1375" y="888.2" font-size="35.5" text-anchor="middle" fill="#111">10</text>
<text x="1515" y="888.2" font-size="35.5" text-anchor="middle" fill="#111">20</text>
<text x="1655" y="888.2" font-size="35.5" text-anchor="middle" fill="#111">30</text>
<text x="1237.8" y="937.4" font-size="36" text-anchor="middle" fill="#111">Time relative to omission trial onset (s)</text>
<rect x="1306.3" y="205.6" width="68.7" height="6.4" fill="#231f20"/>
<rect x="1287.5" y="811.8" width="68.5" height="6.4" fill="#231f20"/>
<rect x="1419.8" y="811.8" width="69" height="6.4" fill="#231f20"/>
<text x="1339" y="214.6" font-size="34" text-anchor="middle" fill="#111">*</text>
<text x="1320.1" y="852" font-size="34" text-anchor="middle" fill="#111">*</text>
<text x="1452.8" y="852" font-size="34" text-anchor="middle" fill="#111">*</text>
<text class="b" x="1379.8" y="265.4" font-size="36" text-anchor="middle" fill="#807e2d">CSF outflow</text>
<path d="M1342.8 282.4H1351.3V341H1362.5L1347 367.8L1331.1 341H1342.8Z" fill="#807e2d"/>
<path d="M1461.9 731.6H1469V676.3H1481.2L1465.6 650.2L1449.9 676.3H1461.9Z" fill="#3f8c85"/>
<text class="b" x="1513" y="765.5" font-size="36" text-anchor="middle" fill="#3f8c85">CSF inflow</text>
</svg>
</body>
</html>
